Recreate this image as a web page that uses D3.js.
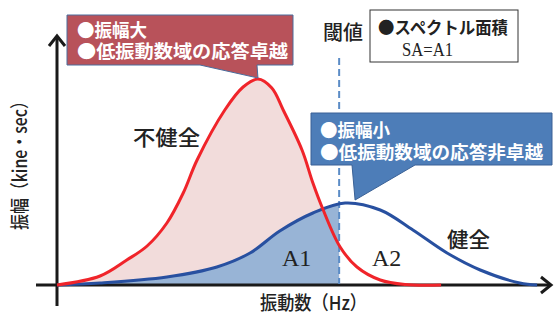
<!DOCTYPE html>
<html>
<head>
<meta charset="utf-8">
<script src="https://cdn.jsdelivr.net/npm/d3@7"></script>
<style>
  body { margin: 0; background: #fff; }
  svg { display: block; }
</style>
</head>
<body>
<div class="chart"></div>
<script>
// spectrum curves (x: frequency 0-100, y: amplitude 0-100)
const redX  = [0, 8.7, 14.1, 18.2, 22.2, 25.5, 28.3, 33.9, 37.6, 40.6, 43.4, 45.7, 49.5, 51.7, 53.7, 57.2, 60.6, 65.3, 70.3, 77.6];
const redY  = [0, 3.6, 10, 15.6, 24.8, 36.8, 50, 70, 79.2, 82.4, 78.8, 70, 54, 40.8, 30.4, 15.2, 7.2, 2, 0.2, 0];
const blueX = [0, 8.7, 22.2, 32.3, 39, 45, 51.7, 58.2, 65.3, 71.9, 78.8, 85.5, 93.5, 97];
const blueY = [0, 0.8, 3.2, 7.2, 12.8, 21.6, 28.8, 32.8, 30, 22, 12.8, 6, 0.8, 0];
const threshold = 57;

const redNotes  = ["●振幅大", "●低振動数域の応答卓越"];
const blueNotes = ["●振幅小", "●低振動数域の応答非卓越"];
const legendLines = ["●スペクトル面積", "SA=A1"];

var width = 559, height = 314;
const jp = "'Noto Sans CJK JP', sans-serif";
const serif = "'Liberation Serif', 'DejaVu Serif', serif";

const svg = d3.select(".chart").append("svg")
    .attr("width", width)
    .attr("height", height);

var x = d3.scaleLinear().domain([0, 100]).range([57, 552]);
var y = d3.scaleLinear().domain([0, 100]).range([285, 35]);

const red = redX.map(function(d, i) { return [d, redY[i]]; });
const blue = blueX.map(function(d, i) { return [d, blueY[i]]; });

var line = d3.line()
    .x(function(d) { return x(d[0]); })
    .y(function(d) { return y(d[1]); })
    .curve(d3.curveCatmullRom.alpha(0.5));

var area = d3.area()
    .x(function(d) { return x(d[0]); })
    .y0(y(0))
    .y1(function(d) { return y(d[1]); })
    .curve(d3.curveCatmullRom.alpha(0.5));

svg.append("clipPath").attr("id", "left")
    .append("rect")
    .attr("x", 0).attr("y", 0)
    .attr("width", x(threshold)).attr("height", height);

svg.append("path").datum(red)
    .attr("d", area)
    .attr("clip-path", "url(#left)")
    .style("fill", "#f2dcdb");

svg.append("path").datum(blue)
    .attr("d", area)
    .attr("clip-path", "url(#left)")
    .style("fill", "#98b4d6");

// axes
svg.append("line")
    .attr("x1", 36).attr("x2", 550)
    .attr("y1", y(0)).attr("y2", y(0))
    .style("stroke", "#1a1a1a").style("stroke-width", 3);
svg.append("line")
    .attr("x1", x(0)).attr("x2", x(0))
    .attr("y1", 306).attr("y2", 37)
    .style("stroke", "#1a1a1a").style("stroke-width", 3);
svg.append("path")
    .attr("d", "M" + (x(0) - 8) + "," + 46 + "L" + x(0) + "," + 36 + "L" + (x(0) + 8) + "," + 46)
    .style("fill", "none").style("stroke", "#1a1a1a").style("stroke-width", 3);
svg.append("path")
    .attr("d", "M" + 541 + "," + (y(0) - 8) + "L" + 551 + "," + y(0) + "L" + 541 + "," + (y(0) + 8))
    .style("fill", "none").style("stroke", "#1a1a1a").style("stroke-width", 3);

// threshold
svg.append("line")
    .attr("x1", x(threshold)).attr("x2", x(threshold))
    .attr("y1", 58).attr("y2", y(0) - 1)
    .style("stroke", "#5b8cc6").style("stroke-width", 2)
    .style("stroke-dasharray", "7,4");

svg.append("path").datum(blue)
    .attr("d", line)
    .style("fill", "none").style("stroke", "#2850a0").style("stroke-width", 3);
svg.append("path").datum(red)
    .attr("d", line)
    .style("fill", "none").style("stroke", "#f0242a").style("stroke-width", 3);

// callouts
var redPeak = red[d3.maxIndex(redY)];
var bluePeak = blue[d3.maxIndex(blueY)];

svg.append("path")
    .attr("d", "M67,15H293V65H" + (x(redPeak[0]) - 1) + "L" + x(redPeak[0]) + "," + (y(redPeak[1]) - 1) + "L200,65H67Z")
    .style("fill", "#b8525a").style("stroke", "#4a6c9c").style("stroke-width", 1);

svg.append("path")
    .attr("d", "M311,113H552V165H415L" + (x(bluePeak[0]) + 10) + "," + (y(bluePeak[1]) - 3) + "L352,165H311Z")
    .style("fill", "#4d7db8").style("stroke", "#3a6196").style("stroke-width", 1);

var redLen = [70, 211], blueLen = [70, 223];

svg.selectAll(".rnote").data(redNotes).enter().append("text")
    .attr("x", 77).attr("y", function(d, i) { return 37 + i * 21; })
    .attr("textLength", function(d, i) { return redLen[i]; })
    .attr("lengthAdjust", "spacingAndGlyphs")
    .style("font-family", jp).style("font-size", "18px").style("font-weight", "bold")
    .style("fill", "#fff")
    .text(function(d) { return d; });

svg.selectAll(".bnote").data(blueNotes).enter().append("text")
    .attr("x", 320).attr("y", function(d, i) { return 137 + i * 22; })
    .attr("textLength", function(d, i) { return blueLen[i]; })
    .attr("lengthAdjust", "spacingAndGlyphs")
    .style("font-family", jp).style("font-size", "18px").style("font-weight", "bold")
    .style("fill", "#fff")
    .text(function(d) { return d; });

// legend box
svg.append("rect")
    .attr("x", 370).attr("y", 10).attr("width", 148).attr("height", 52)
    .style("fill", "#fff").style("stroke", "#333").style("stroke-width", 1);
svg.append("text")
    .attr("x", 378).attr("y", 34)
    .attr("textLength", 130).attr("lengthAdjust", "spacingAndGlyphs")
    .style("font-family", jp).style("font-size", "17px").style("font-weight", "bold")
    .style("fill", "#222")
    .text(legendLines[0]);
svg.append("text")
    .attr("x", 402).attr("y", 56)
    .attr("textLength", 51).attr("lengthAdjust", "spacingAndGlyphs")
    .style("font-family", serif).style("font-size", "19px")
    .style("fill", "#222")
    .text(legendLines[1]);

svg.append("text")
    .attr("x", 343).attr("y", 40)
    .attr("text-anchor", "middle")
    .style("font-family", jp).style("font-size", "20px").style("font-weight", "500")
    .style("fill", "#222")
    .text("閾値");

// labels
svg.append("text")
    .attr("x", 133).attr("y", 145)
    .attr("textLength", 67).attr("lengthAdjust", "spacingAndGlyphs")
    .style("font-family", jp).style("font-size", "21px").style("font-weight", "500")
    .style("fill", "#222")
    .text("不健全");
svg.append("text")
    .attr("x", 447).attr("y", 247)
    .attr("textLength", 43).attr("lengthAdjust", "spacingAndGlyphs")
    .style("font-family", jp).style("font-size", "21px").style("font-weight", "500")
    .style("fill", "#222")
    .text("健全");
svg.append("text")
    .attr("x", 282).attr("y", 266)
    .style("font-family", serif).style("font-size", "24px")
    .style("fill", "#222")
    .text("A1");
svg.append("text")
    .attr("x", 372).attr("y", 266)
    .style("font-family", serif).style("font-size", "24px")
    .style("fill", "#222")
    .text("A2");

svg.append("text")
    .attr("x", 260).attr("y", 310)
    .attr("textLength", 107).attr("lengthAdjust", "spacingAndGlyphs")
    .style("font-family", jp).style("font-size", "19px").style("font-weight", "500")
    .style("fill", "#222")
    .text("振動数（Hz）");

svg.append("text")
    .attr("transform", "translate(27,230) rotate(-90)")
    .attr("textLength", 137).attr("lengthAdjust", "spacingAndGlyphs")
    .style("font-family", jp).style("font-size", "19px").style("font-weight", "500")
    .style("fill", "#222")
    .text("振幅（kine・sec）");
</script>
</body>
</html>
